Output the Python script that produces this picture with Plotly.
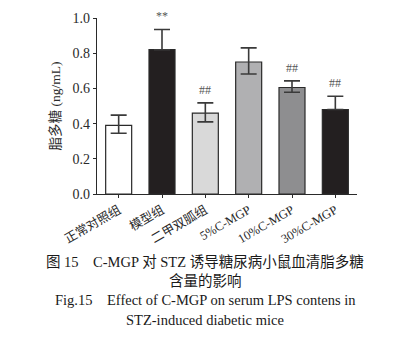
import plotly.graph_objects as go

categories = ["正常对照组", "模型组", "二甲双胍组", "5%C-MGP", "10%C-MGP", "30%C-MGP"]
values = [0.39, 0.82, 0.46, 0.75, 0.605, 0.48]
errors_up = [0.058, 0.115, 0.058, 0.08, 0.038, 0.075]
errors_down = [0.045, 0.0, 0.05, 0.068, 0.027, 0.0]
marks = ["", "**", "##", "", "##", "##"]
colors = ["#ffffff", "#231f20", "#d9d9d9", "#b0b0b2", "#8e8e90", "#231f20"]

serif = "Liberation Serif, Times New Roman, Noto Sans CJK SC"
ink = "#2a2a2a"

fig = go.Figure()
fig.add_trace(go.Bar(
    x=categories, y=values,
    marker=dict(color=colors, line=dict(color=ink, width=1.2)),
    error_y=dict(type="data", symmetric=False, array=errors_up, arrayminus=errors_down,
                 visible=True, color="#3a3a3a", thickness=1.6, width=8),
    width=0.6,
))

for c, v, e, m in zip(categories, values, errors_up, marks):
    if m:
        fig.add_annotation(x=c, y=v + e, text=m, showarrow=False, yanchor="bottom", yshift=4,
                           font=dict(family=serif, size=12, color="#555"))

captions = [
    ("图 15　C-MGP 对 STZ 诱导糖尿病小鼠血清脂多糖", 262),
    ("含量的影响", 281),
    ("Fig.15　Effect of C-MGP on serum LPS contens in", 300),
    ("STZ-induced diabetic mice", 320),
]
plot_top, plot_bottom = 18, 194
for txt, ypx in captions:
    fig.add_annotation(xref="paper", yref="paper", x=(205 - 97) / 260,
                       y=(plot_bottom - ypx) / (plot_bottom - plot_top),
                       text=txt, showarrow=False, xanchor="center", yanchor="middle",
                       font=dict(family=serif, size=14.5, color="#1a1a1a"))

fig.update_layout(
    width=395, height=343,
    margin=dict(l=97, r=38, t=18, b=149),
    paper_bgcolor="white", plot_bgcolor="white",
    showlegend=False,
    font=dict(family=serif, color=ink),
    xaxis=dict(
        showline=True, linecolor=ink, linewidth=1.2,
        ticks="outside", ticklen=3, tickcolor=ink,
        tickangle=-30, tickfont=dict(size=12.5, family=serif, color=ink),
        showgrid=False, range=[-0.5, 5.5],
    ),
    yaxis=dict(
        range=[0, 1.0], dtick=0.2, tickformat=".1f",
        showline=True, linecolor=ink, linewidth=1.2,
        ticks="outside", ticklen=3, tickcolor=ink,
        tickfont=dict(size=14, family=serif, color=ink),
        showgrid=False, zeroline=False,
        title=dict(text="脂多糖 (ng/mL)", font=dict(size=13.5, family=serif, color=ink), standoff=8),
    ),
)

fig.write_html("out.html")
